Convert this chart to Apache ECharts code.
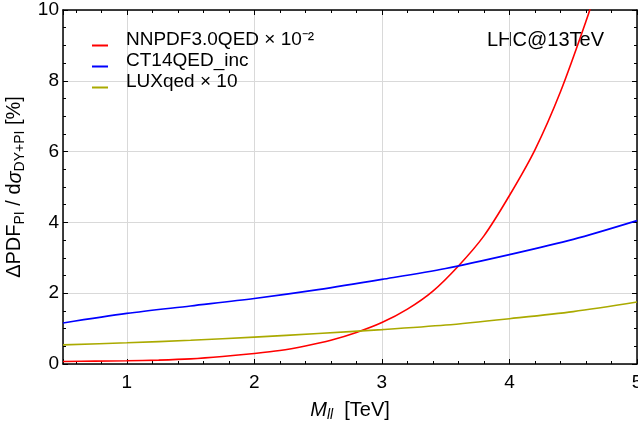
<!DOCTYPE html>
<html>
<head>
<meta charset="utf-8">
<script src="https://cdn.jsdelivr.net/npm/echarts@6/dist/echarts.min.js"></script>
<style>
  html, body { margin: 0; padding: 0; background: #fff; }
  #chart { width: 638px; height: 428px; }
</style>
</head>
<body>
<div id="chart"></div>
<script>
// 数据
const nnpdfX = [0.5, 0.75, 1, 1.25, 1.5, 1.75, 2, 2.2, 2.4, 2.6, 2.8, 3, 3.2, 3.4, 3.6, 3.8, 4, 4.2, 4.4, 4.6, 4.7]
const nnpdfY = [0.07, 0.08, 0.09, 0.11, 0.145, 0.21, 0.295, 0.38, 0.51, 0.67, 0.89, 1.17, 1.55, 2.06, 2.77, 3.62, 4.76, 6.05, 7.69, 9.68, 10.8]

const ct14X = [0.5, 1, 1.5, 2, 2.5, 3, 3.5, 4, 4.5, 5]
const ct14Y = [1.16, 1.43, 1.64, 1.85, 2.1, 2.39, 2.7, 3.09, 3.52, 4.05]

const luxX = [0.5, 1, 1.5, 2, 2.5, 3, 3.5, 4, 4.5, 5]
const luxY = [0.54, 0.6, 0.67, 0.76, 0.86, 0.97, 1.1, 1.28, 1.48, 1.75]

const seriesNames = ['NNPDF3.0QED × 10⁻²', 'CT14QED_inc', 'LUXqed × 10']
const seriesColors = ['#ff0000', '#0000ff', '#aaaa00']

const FONT = '"Liberation Sans", Arial, sans-serif'

const chart = echarts.init(document.getElementById('chart'))

const pairs = (xs, ys) => xs.map((x, i) => [x, ys[i]])

const tickStyle = { color: '#000', width: 1 }

// x 轴：0.5 起，自动刻度 1,2,3,4,5，次刻度 0.2
const baseX = {
  type: 'value',
  min: 0.5,
  max: 5,
  splitNumber: 5,
  axisLine: { show: true, onZero: false, lineStyle: { color: '#000', width: 1.5 } },
  axisTick: { show: true, inside: true, length: 5, lineStyle: tickStyle },
  minorTick: { show: true, splitNumber: 5, length: 3, lineStyle: tickStyle },
  axisLabel: { show: false },
  splitLine: { show: false }
}

const baseY = {
  type: 'value',
  min: 0,
  max: 10,
  interval: 2,
  axisLine: { show: true, onZero: false, lineStyle: { color: '#000', width: 1.5 } },
  axisTick: { show: true, inside: true, length: 5, lineStyle: tickStyle },
  minorTick: { show: true, splitNumber: 4, length: 3, lineStyle: tickStyle },
  axisLabel: { show: false },
  splitLine: { show: false }
}

const option = {
  backgroundColor: '#fff',
  animation: false,
  grid: { left: 63, right: 1, top: 10, bottom: 64, containLabel: false, outerBoundsMode: 'none' },
  legend: {
    orient: 'vertical',
    left: 92,
    top: 29,
    padding: 0,
    itemGap: 0,
    itemWidth: 16,
    itemHeight: 14,
    icon: 'path://M0,0M0,12L16,12L16,14L0,14Z',
    itemStyle: { borderWidth: 0 },
    data: seriesNames,
    textStyle: {
      fontFamily: FONT,
      fontSize: 19,
      color: '#000',
      lineHeight: 21,
      padding: [0, 0, 0, 13]
    }
  },
  graphic: [
    {
      type: 'text',
      left: 487,
      top: 30,
      style: { text: 'LHC@13TeV', font: '20px ' + FONT, fill: '#000' }
    }
  ],
  xAxis: [
    {
      ...baseX,
      position: 'bottom',
      name: '{i|M}{si|ll}{a|  [TeV]}',
      nameLocation: 'middle',
      nameGap: 34,
      nameTextStyle: {
        rich: {
          a: { fontFamily: FONT, fontSize: 20, color: '#000', lineHeight: 24 },
          i: { fontFamily: FONT, fontSize: 20, fontStyle: 'italic', color: '#000', lineHeight: 24 },
          si: { fontFamily: FONT, fontSize: 14, fontStyle: 'italic', color: '#000', lineHeight: 14, verticalAlign: 'bottom' }
        }
      },
      axisLabel: {
        show: true,
        showMinLabel: false,
        fontFamily: FONT,
        fontSize: 19,
        color: '#000',
        margin: 9
      },
      splitLine: { show: true, lineStyle: { color: '#d9d9d9', width: 1 } }
    },
    {
      ...baseX,
      position: 'top'
    }
  ],
  yAxis: [
    {
      ...baseY,
      position: 'left',
      name: '{a|ΔPDF}{s|PI}{a| / d}{i|σ}{s|DY+PI}{a| [%]}',
      nameLocation: 'middle',
      nameGap: 17,
      nameTextStyle: {
        rich: {
          a: { fontFamily: FONT, fontSize: 20, color: '#000', lineHeight: 24 },
          i: { fontFamily: FONT, fontSize: 20, fontStyle: 'italic', color: '#000', lineHeight: 24 },
          s: { fontFamily: FONT, fontSize: 14, color: '#000', lineHeight: 14, verticalAlign: 'bottom' }
        }
      },
      axisLabel: { show: true, fontFamily: FONT, fontSize: 19, color: '#000', margin: 4 },
      splitLine: { show: true, lineStyle: { color: '#d9d9d9', width: 1 } }
    },
    {
      ...baseY,
      position: 'right'
    }
  ],
  series: [
    { x: nnpdfX, y: nnpdfY },
    { x: ct14X, y: ct14Y },
    { x: luxX, y: luxY }
  ].map((d, i) => ({
    name: seriesNames[i],
    type: 'line',
    xAxisIndex: 0,
    yAxisIndex: 0,
    data: pairs(d.x, d.y),
    smooth: 0.3,
    symbol: 'none',
    clip: true,
    color: seriesColors[i],
    lineStyle: { color: seriesColors[i], width: 1.6 }
  }))
}

chart.setOption(option)
</script>
</body>
</html>
